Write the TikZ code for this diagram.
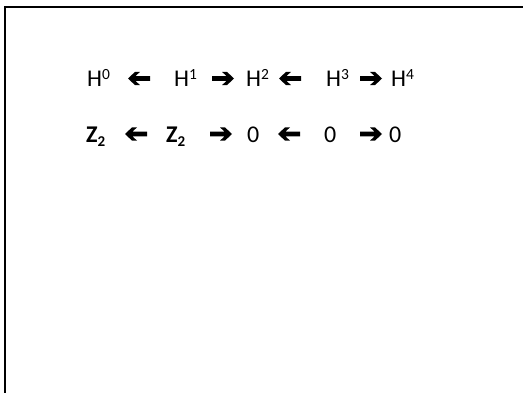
\documentclass[tikz,border=0pt]{standalone}
\usepackage{fontspec}
\setmainfont{Carlito}
\newcommand\mysup[1]{\raisebox{7pt}{\fontsize{15.5}{17}\selectfont #1}}
\newcommand\mysub[1]{\raisebox{-4pt}{\fontsize{15}{17}\selectfont #1}}
\begin{document}
\begin{tikzpicture}[x=1pt,y=1pt,
  lbl/.style={anchor=base west,inner sep=0pt,font=\fontsize{24}{28}\selectfont},
  frame/.style={line width=2pt,line cap=rect},
  fatarrow/.pic={\fill (0,2.4) -- (14.6,2.4) -- (10,6.6) -- (15,6.6) -- (22,0) -- (15,-6.6) -- (10,-6.6) -- (14.6,-2.4) -- (0,-2.4) -- cycle;}]
\useasboundingbox (0,0) rectangle (523,-393);
\coordinate (ftl) at (5,-7);
\coordinate (ftr) at (524,-7);
\coordinate (fbl) at (5,-394);
\draw[frame] (ftr) -- (ftl) -- (fbl);
% row 1
\node[lbl] (h0) at (87,-87) {H\mysup{0}};
\node[lbl] (h1) at (174,-87) {H\mysup{1}};
\node[lbl] (h2) at (246,-87) {H\mysup{2}};
\node[lbl] (h3) at (326,-87) {H\mysup{3}};
\node[lbl] (h4) at (391,-87) {H\mysup{4}};
% row 2
\node[lbl] (z0) at (86,-143) {\textbf{Z\mysub{2}}};
\node[lbl] (z1) at (166,-143) {\textbf{Z\mysub{2}}};
\node[lbl] (z2) at (247,-143) {0};
\node[lbl] (z3) at (324,-143) {0};
\node[lbl] (z4) at (389,-143) {0};
% arrows (tail positions; left arrows mirrored)
\coordinate (a1) at (150,-78.5); \coordinate (a2) at (212,-78.5);
\coordinate (a3) at (301,-78.5); \coordinate (a4) at (360,-78.5);
\coordinate (b1) at (147,-134); \coordinate (b2) at (210,-134);
\coordinate (b3) at (300,-134); \coordinate (b4) at (360,-134);
\foreach \c in {a1,a3,b1,b3} \pic[xscale=-1] at (\c) {fatarrow};
\foreach \c in {a2,a4,b2,b4} \pic at (\c) {fatarrow};
\end{tikzpicture}
\end{document}
